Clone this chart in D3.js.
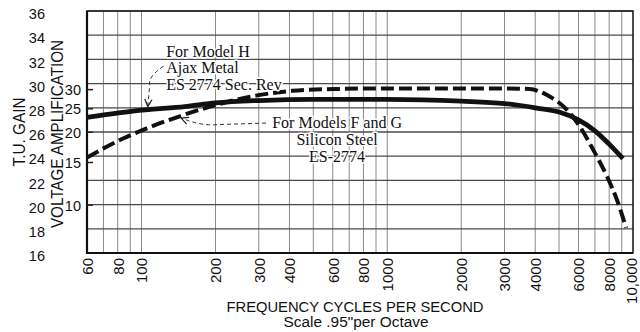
<!DOCTYPE html>
<html>
<head>
<meta charset="utf-8">
<script src="https://cdn.jsdelivr.net/npm/d3@7"></script>
<style>
  html, body { margin: 0; padding: 0; background: #fff; }
  svg { display: block; }
</style>
</head>
<body>
<svg id="chart" width="640" height="332"></svg>
<script>
// Frequency axis ticks (cycles per second) and their printed labels
const freqTicks = [60, 80, 100, 200, 300, 400, 600, 800, 1000, 2000, 3000, 4000, 6000, 8000, 10000];
const freqTickLabels = ["60", "80", "100", "200", "300", "400", "600", "800", "1000",
                        "2000", "3000", "4000", "6000", "8000", "10,000"];

// Transmission-unit gain ticks and voltage amplification ticks
const gainTicks = [16, 18, 20, 22, 24, 26, 28, 30, 32, 34, 36];
const voltageTicks = [10, 15, 20, 25, 30];

// Model H, Ajax Metal, ES 2774 Sec. Rev (solid curve)
const modelHFreq = [60, 100, 150, 200, 300, 500, 1000, 2000, 3000, 4000, 5000, 6000, 7000, 8000, 9100];
const modelHGain = [27.2, 27.8, 28.1, 28.4, 28.6, 28.7, 28.7, 28.55, 28.35, 28.0, 27.65, 27.0, 26.1, 25.0, 23.8];

// Models F and G, Silicon Steel, ES-2774 (dashed curve)
const modelFGFreq = [60, 85, 105, 143, 215, 300, 410, 600, 1000, 2000, 3000, 3800, 4470, 5400, 6100, 6900, 7850, 8600, 9370];
const modelFGGain = [23.9, 25.5, 26.3, 27.3, 28.4, 29.05, 29.4, 29.55, 29.6, 29.6, 29.6, 29.55, 29.05, 27.8, 26.4, 24.5, 22.3, 20.4, 18.1];

const svg = d3.select("#chart");
const W = 640, H = 332;
const plot = { left: 87, right: 633, top: 11, bottom: 253 };

const x = d3.scaleLog().domain([60, 10000]).range([plot.left, plot.right]);
const y = d3.scaleLinear().domain([16, 36]).range([plot.bottom, plot.top]);
// Voltage amplification v corresponds to a gain of 20·log10(v) TU
const yV = d3.scaleLog()
  .domain([Math.pow(10, 16 / 20), Math.pow(10, 36 / 20)])
  .range([plot.bottom, plot.top]);

svg.append("rect").attr("width", W).attr("height", H).attr("fill", "#fff");

const sans = "'Liberation Sans', Arial, Helvetica, sans-serif";
const serif = "'Liberation Serif', 'Times New Roman', Times, serif";

// ---- grid ----
const grid = svg.append("g");
grid.selectAll("line.v")
  .data(x.ticks())
  .join("line")
  .attr("x1", d => x(d)).attr("x2", d => x(d))
  .attr("y1", plot.top).attr("y2", plot.bottom)
  .attr("stroke", "#8a8a8a").attr("stroke-width", 1);
grid.selectAll("line.h")
  .data(gainTicks)
  .join("line")
  .attr("x1", plot.left).attr("x2", plot.right)
  .attr("y1", d => y(d)).attr("y2", d => y(d))
  .attr("stroke", "#4a4a4a").attr("stroke-width", 1.3);

// ---- frame ----
svg.append("rect")
  .attr("x", plot.left).attr("y", plot.top)
  .attr("width", plot.right - plot.left).attr("height", plot.bottom - plot.top)
  .attr("fill", "none").attr("stroke", "#222").attr("stroke-width", 1.5);
svg.append("line").attr("x1", plot.left).attr("x2", plot.left)
  .attr("y1", plot.top).attr("y2", plot.bottom + 1)
  .attr("stroke", "#111").attr("stroke-width", 2.2);
svg.append("line").attr("x1", plot.left).attr("x2", plot.right)
  .attr("y1", plot.bottom).attr("y2", plot.bottom)
  .attr("stroke", "#111").attr("stroke-width", 2.2);

// ---- frequency axis ----
const xAxis = svg.append("g")
  .attr("transform", `translate(0,${plot.bottom})`)
  .call(d3.axisBottom(x).tickValues(freqTicks)
    .tickFormat((d, i) => freqTickLabels[i]).tickSize(0));
xAxis.select(".domain").remove();
xAxis.selectAll("text")
  .attr("transform", d => d === 10000 ? "translate(-2,0) rotate(-90)" : "rotate(-90)")
  .attr("text-anchor", "end")
  .attr("x", -5).attr("y", 0).attr("dy", "0.36em")
  .attr("font-family", sans).attr("font-size", 15).attr("fill", "#111");

// ---- T.U. gain axis ----
const gAxis = svg.append("g")
  .attr("transform", `translate(${plot.left},0)`)
  .call(d3.axisLeft(y).tickValues(gainTicks).tickSize(0).tickPadding(42));
gAxis.select(".domain").remove();
gAxis.selectAll("text")
  .attr("font-family", sans).attr("font-size", 14.5).attr("fill", "#111")
  .attr("transform", "translate(0,3)");

// ---- voltage amplification axis ----
const vAxis = svg.append("g")
  .attr("transform", `translate(${plot.left},0)`)
  .call(d3.axisLeft(yV).tickValues(voltageTicks).tickFormat(d3.format("d"))
    .tickSize(-6).tickPadding(6));
vAxis.select(".domain").remove();
vAxis.selectAll("line").attr("stroke", "#222").attr("stroke-width", 1.5);
vAxis.selectAll("text")
  .attr("font-family", sans).attr("font-size", 14.5).attr("fill", "#111")
  .attr("transform", "translate(0,1)");

// ---- axis titles ----
svg.append("text")
  .attr("transform", "translate(19,132) rotate(-90)")
  .attr("text-anchor", "middle").attr("dominant-baseline", "central")
  .attr("font-family", sans).attr("font-size", 17).attr("fill", "#111")
  .attr("textLength", 69).attr("lengthAdjust", "spacingAndGlyphs")
  .text("T.U. GAIN");
svg.append("text")
  .attr("transform", "translate(57,134) rotate(-90)")
  .attr("text-anchor", "middle").attr("dominant-baseline", "central")
  .attr("font-family", sans).attr("font-size", 17).attr("fill", "#111")
  .attr("textLength", 188).attr("lengthAdjust", "spacingAndGlyphs")
  .text("VOLTAGE AMPLIFICATION");
svg.append("text")
  .attr("x", 355).attr("y", 312)
  .attr("text-anchor", "middle")
  .attr("font-family", sans).attr("font-size", 14.5).attr("fill", "#111")
  .attr("textLength", 257).attr("lengthAdjust", "spacingAndGlyphs")
  .text("FREQUENCY CYCLES PER SECOND");
svg.append("text")
  .attr("x", 356).attr("y", 327)
  .attr("text-anchor", "middle")
  .attr("font-family", sans).attr("font-size", 14).attr("fill", "#111")
  .attr("textLength", 145).attr("lengthAdjust", "spacingAndGlyphs")
  .text("Scale .95\"per Octave");

// ---- response curves ----
const line = d3.line()
  .x(d => x(d[0])).y(d => y(d[1]))
  .curve(d3.curveMonotoneX);

svg.append("path")
  .datum(d3.zip(modelFGFreq, modelFGGain))
  .attr("d", line)
  .attr("fill", "none").attr("stroke", "#111")
  .attr("stroke-width", 4).attr("stroke-dasharray", "13,5");

svg.append("path")
  .datum(d3.zip(modelHFreq, modelHGain))
  .attr("d", line)
  .attr("fill", "none").attr("stroke", "#111")
  .attr("stroke-width", 4.8).attr("stroke-linecap", "butt");

// ---- annotations ----
const defs = svg.append("defs");
defs.append("marker")
  .attr("id", "openArrow")
  .attr("viewBox", "0 0 10 10").attr("refX", 9).attr("refY", 5)
  .attr("markerWidth", 9).attr("markerHeight", 9)
  .attr("markerUnits", "userSpaceOnUse")
  .attr("orient", "auto")
  .append("path")
  .attr("d", "M1,1 L9,5 L1,9")
  .attr("fill", "none").attr("stroke", "#222").attr("stroke-width", 1.4);

const pt = (f, g) => [x(f), y(g)];

// leader to the solid curve
{
  const a = pt(123, 31.45), b = pt(108, 29.9), c = pt(106, 28.1);
  svg.append("path")
    .attr("d", `M${a[0]},${a[1]} Q${b[0] - 2},${b[1] - 8} ${b[0]},${b[1]} L${c[0]},${c[1]}`)
    .attr("fill", "none").attr("stroke", "#333").attr("stroke-width", 1)
    .attr("stroke-dasharray", "4,3")
    .attr("marker-end", "url(#openArrow)");
}
// leader to the dashed curve
{
  const a = pt(321, 26.74), b = pt(181, 26.6), c = pt(145, 27.15);
  svg.append("path")
    .attr("d", `M${a[0]},${a[1]} L${b[0] + 10},${b[1]} Q${b[0] - 4},${b[1] + 1} ${c[0]},${c[1]}`)
    .attr("fill", "none").attr("stroke", "#333").attr("stroke-width", 1)
    .attr("stroke-dasharray", "4,3")
    .attr("marker-end", "url(#openArrow)");
}

function labelBlock(lines, f, g, anchor, lineGap) {
  const p = pt(f, g);
  const t = svg.append("text")
    .attr("font-family", serif).attr("font-size", 16).attr("fill", "#111")
    .attr("text-anchor", anchor)
    .attr("stroke", "#fff").attr("stroke-width", 3).attr("paint-order", "stroke")
    .attr("stroke-linejoin", "round");
  lines.forEach((s, i) => {
    t.append("tspan").attr("x", p[0]).attr("y", p[1] + i * lineGap).text(s);
  });
}

labelBlock(["For Model H", "Ajax Metal", "ES 2774 Sec. Rev"], 126, 32.2, "start", 16.5);
labelBlock(["For Models F and G", "Silicon Steel", "ES-2774"], 625, 26.33, "middle", 17);
</script>
</body>
</html>
